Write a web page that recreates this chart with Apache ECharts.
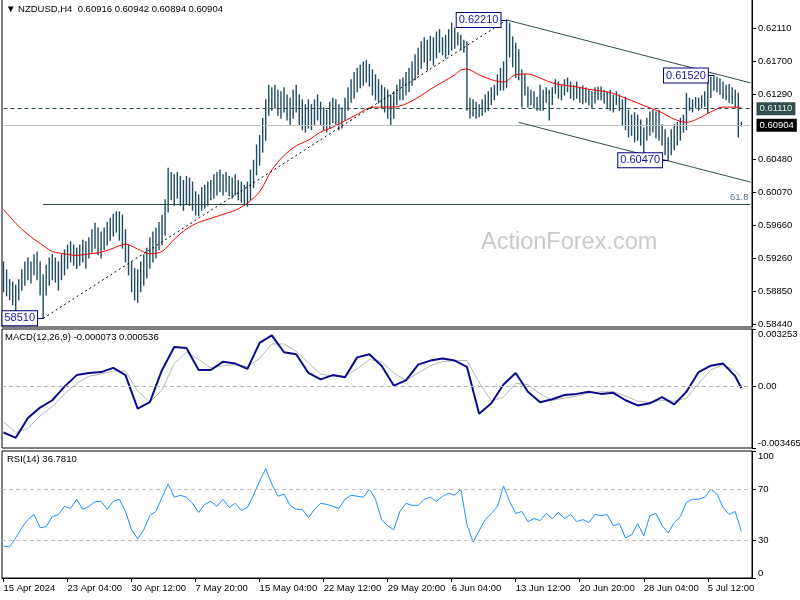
<!DOCTYPE html>
<html><head><meta charset="utf-8">
<script src="https://cdn.jsdelivr.net/npm/echarts@6/dist/echarts.min.js"></script>
<style>html,body{margin:0;padding:0;background:#fff}#c{width:800px;height:600px}</style>
</head><body><div id="c"></div>
<script>
// ---------- DATA ----------
const symbolName = 'NZDUSD,H4';
const lastBar = [0.60916, 0.60942, 0.60894, 0.60904]; // open high low close
const tickLabels = ['15 Apr 2024','23 Apr 04:00','30 Apr 12:00','7 May 20:00','15 May 04:00','22 May 12:00','29 May 20:00','6 Jun 04:00','13 Jun 12:00','20 Jun 20:00','28 Jun 04:00','5 Jul 12:00'];
const priceTicks = [0.58440,0.58850,0.59260,0.59660,0.60070,0.60480,0.61290,0.61700,0.62110];
const macdTicks = [-0.003465, 0, 0.003253];
const rsiTicks = [0, 30, 70, 100];
const rsiLevels = [70, 30];
const dashedLevel = 0.61110;
const fibLevel = {from: 13, price: 0.59925, text: '61.8'};
const trendLines = [
  {from: [13, 0.5851], to: [165, 0.6221], kind: 'dot'},
  {from: [165, 0.6221], to: [245, 0.6143], kind: 'solid'},
  {from: [169, 0.6094], to: [245, 0.6020], kind: 'solid'}
];
const annotations = [
  {idx: 165, price: 0.62210, text: '0.62210'},
  {idx: 233, price: 0.61520, text: '0.61520'},
  {idx: 218, price: 0.60470, text: '0.60470'},
  {idx: 13,  price: 0.58510, text: '58510'}
];
const highs = [
.5921,.5911,.5899,.5896,.5892,.5899,.5911,.5921,.5926,.5921,
.5930,.5933,.5921,.5905,.5917,.5926,.5930,.5926,.5921,.5930,
.5936,.5942,.5946,.5942,.5938,.5942,.5948,.5946,.5951,.5961,
.5969,.5963,.5958,.5963,.5970,.5975,.5980,.5983,.5983,.5979,
.5961,.5942,.5921,.5913,.5911,.5921,.5930,.5938,.5951,.5958,
.5963,.5970,.5979,.5998,.6037,.6032,.6029,.6032,.6027,.6022,
.6027,.6025,.6020,.6008,.6004,.6013,.6016,.6020,.6022,.6029,
.6032,.6035,.6029,.6032,.6027,.6025,.6029,.6022,.6020,.6016,
.6020,.6035,.6047,.6066,.6078,.6099,.6122,.6140,.6137,.6140,
.6134,.6132,.6137,.6128,.6124,.6134,.6140,.6128,.6122,.6116,
.6122,.6116,.6122,.6128,.6119,.6112,.6109,.6119,.6124,.6122,
.6116,.6112,.6124,.6137,.6147,.6156,.6161,.6165,.6169,.6171,
.6166,.6159,.6153,.6147,.6140,.6137,.6134,.6128,.6132,.6140,
.6147,.6149,.6156,.6161,.6169,.6178,.6186,.6194,.6199,.6196,
.6201,.6199,.6206,.6209,.6199,.6202,.6209,.6217,.6211,.6205,
.6202,.6196,.6194,.6124,.6122,.6119,.6116,.6122,.6128,.6132,
.6137,.6140,.6153,.6161,.6169,.6221,.6217,.6200,.6192,.6184,
.6159,.6153,.6138,.6134,.6132,.6125,.6140,.6134,.6137,.6134,
.6137,.6147,.6144,.6140,.6147,.6149,.6144,.6140,.6144,.6137,
.6139,.6137,.6134,.6132,.6137,.6138,.6138,.6134,.6132,.6134,
.6128,.6132,.6128,.6122,.6125,.6109,.6103,.6106,.6103,.6097,
.6087,.6099,.6107,.6109,.6107,.6109,.6091,.6085,.6075,.6085,
.6091,.6094,.6099,.6103,.6130,.6124,.6122,.6125,.6124,.6127,
.6132,.6147,.6150,.6152,.6150,.6148,.6144,.6140,.6141,.6137,
.6134,.6130,.60942];
const lows = [
.5884,.5879,.5874,.5868,.5859,.5874,.5886,.5892,.5899,.5895,
.5905,.5899,.5880,.5851,.5880,.5892,.5899,.5896,.5886,.5899,
.5905,.5913,.5921,.5917,.5913,.5917,.5921,.5913,.5926,.5933,
.5938,.5930,.5926,.5936,.5942,.5948,.5953,.5958,.5948,.5938,
.5921,.5905,.5884,.5874,.5871,.5884,.5892,.5901,.5913,.5921,
.5926,.5936,.5942,.5954,.5983,.5998,.5991,.6000,.5991,.5985,
.5993,.5991,.5985,.5979,.5978,.5985,.5988,.5991,.5998,.6000,
.6004,.6008,.6004,.6008,.6003,.6000,.6004,.5998,.5995,.5991,
.5990,.5998,.6013,.6029,.6041,.6057,.6072,.6103,.6109,.6112,
.6103,.6099,.6107,.6097,.6091,.6099,.6107,.6091,.6085,.6082,
.6087,.6085,.6091,.6097,.6091,.6085,.6082,.6087,.6094,.6091,
.6085,.6087,.6097,.6109,.6119,.6124,.6132,.6137,.6140,.6144,
.6139,.6128,.6122,.6118,.6112,.6107,.6099,.6091,.6099,.6116,
.6122,.6122,.6128,.6132,.6140,.6147,.6153,.6161,.6169,.6159,
.6171,.6165,.6174,.6181,.6178,.6174,.6178,.6184,.6186,.6190,
.6184,.6181,.6109,.6099,.6102,.6099,.6101,.6103,.6107,.6109,
.6116,.6122,.6128,.6134,.6134,.6137,.6175,.6163,.6150,.6147,
.6113,.6128,.6113,.6116,.6112,.6109,.6109,.6109,.6119,.6097,
.6116,.6130,.6124,.6122,.6128,.6132,.6124,.6122,.6124,.6119,
.6117,.6119,.6116,.6112,.6118,.6122,.6122,.6118,.6112,.6109,
.6107,.6116,.6109,.6091,.6085,.6076,.6078,.6070,.6072,.6066,
.6056,.6072,.6078,.6082,.6075,.6072,.6066,.6054,.6047,.6054,
.6060,.6066,.6072,.6082,.6085,.6109,.6107,.6112,.6109,.6112,
.6114,.6106,.6125,.6134,.6132,.6129,.6124,.6122,.6119,.6117,
.6113,.6076,.60894];
const maLine = [[0,.5986],[4,.5969],[8,.5955],[12,.5944],[16,.5934],[20,.5931],[24,.5929],[28,.5931],[32,.5933],[36,.5938],[40,.5943],[44,.5937],[48,.5931],[52,.5934],[56,.5949],[60,.5962],[64,.5970],[68,.5975],[72,.5980],[76,.5985],[80,.5994],[84,.6008],[88,.6035],[92,.6053],[96,.6065],[100,.6072],[104,.6082],[108,.6088],[112,.6096],[116,.6104],[120,.6112],[124,.6113],[128,.6113],[132,.6117],[136,.6125],[140,.6135],[144,.6144],[148,.6153],[150,.6159],[152,.6160],[156,.6153],[160,.6147],[164,.6144],[168,.6153],[172,.6154],[176,.6149],[180,.6143],[184,.6140],[188,.6138],[192,.6135],[196,.6133],[200,.6130],[204,.6124],[208,.6118],[212,.6112],[216,.6106],[220,.6098],[224,.6094],[228,.6099],[232,.6107],[236,.6113],[240,.6113],[242,.6112]];
const macdMain = [[0,-0.00259],[4,-0.00289],[8,-0.00177],[12,-0.00118],[16,-0.00077],[20,0.0],[24,0.00065],[28,0.00077],[32,0.00082],[36,0.00106],[40,0.00065],[44,-0.00124],[48,-0.00088],[52,0.00094],[56,0.00224],[60,0.00218],[64,0.00094],[68,0.00094],[72,0.00141],[76,0.00130],[80,0.00100],[84,0.00247],[88,0.00289],[92,0.00194],[96,0.00183],[100,0.00077],[104,0.00041],[108,0.00065],[112,0.00053],[116,0.00165],[120,0.00183],[124,0.00118],[128,0.00006],[132,0.00035],[136,0.00124],[140,0.00147],[144,0.00159],[148,0.00147],[152,0.00112],[156,-0.00153],[160,-0.00094],[164,0.00012],[168,0.00077],[172,-0.00029],[176,-0.00088],[180,-0.00071],[184,-0.00047],[188,-0.00041],[192,-0.00029],[196,-0.00041],[200,-0.00035],[204,-0.00077],[208,-0.00106],[212,-0.00094],[216,-0.00059],[220,-0.00100],[224,-0.00029],[228,0.00082],[232,0.00118],[236,0.00130],[240,0.00059],[242,-0.000073]];
const macdSignal = [[0,-0.00200],[4,-0.00259],[8,-0.00236],[12,-0.00165],[16,-0.00112],[20,-0.00041],[24,0.00018],[28,0.00059],[32,0.00071],[36,0.00088],[40,0.00088],[44,-0.00024],[48,-0.00088],[52,-0.00018],[56,0.00130],[60,0.00194],[64,0.00153],[68,0.00106],[72,0.00118],[76,0.00124],[80,0.00112],[84,0.00159],[88,0.00241],[92,0.00241],[96,0.00200],[100,0.00135],[104,0.00071],[108,0.00059],[112,0.00059],[116,0.00100],[120,0.00153],[124,0.00141],[128,0.00077],[132,0.00035],[136,0.00077],[140,0.00118],[144,0.00141],[148,0.00147],[152,0.00147],[156,0.00024],[160,-0.00082],[164,-0.00059],[168,0.00018],[172,0.00012],[176,-0.00041],[180,-0.00077],[184,-0.00065],[188,-0.00053],[192,-0.00035],[196,-0.00029],[200,-0.00029],[204,-0.00053],[208,-0.00082],[212,-0.00088],[216,-0.00077],[220,-0.00082],[224,-0.00065],[228,0.00018],[232,0.00094],[236,0.00124],[240,0.00088],[242,0.000536]];
const rsiLine = [[0,25.2],[2,24.4],[4,31.6],[6,39.6],[8,46.0],[10,50.0],[12,39.6],[14,40.4],[16,48.4],[18,50.0],[20,56.4],[22,54.8],[24,62.0],[26,54.0],[28,56.4],[30,60.0],[32,60.4],[34,54.0],[36,60.4],[38,62.0],[40,52.4],[42,38.0],[44,30.8],[46,38.0],[48,49.2],[50,52.4],[52,63.6],[54,74.0],[56,63.6],[58,65.2],[60,63.6],[62,58.8],[64,51.6],[66,58.0],[68,60.4],[70,56.4],[72,62.0],[74,55.6],[76,58.8],[78,53.2],[80,55.6],[82,65.2],[84,76.4],[86,86.0],[88,74.0],[90,64.4],[92,66.0],[94,57.2],[96,54.0],[98,54.0],[100,47.6],[102,54.0],[104,58.8],[106,58.0],[108,56.4],[110,54.8],[112,62.0],[114,65.2],[116,64.4],[118,63.6],[120,70.0],[122,62.0],[124,46.0],[126,41.2],[128,38.0],[130,52.4],[132,58.8],[134,57.2],[136,57.2],[138,62.0],[140,63.6],[142,60.4],[144,64.4],[146,66.8],[148,65.2],[150,70.0],[152,42.0],[154,28.4],[156,37.2],[158,46.0],[160,50.8],[162,56.4],[164,72.4],[166,60.4],[168,50.8],[170,52.4],[172,44.4],[174,46.8],[176,45.2],[178,50.8],[180,46.8],[182,51.6],[184,46.8],[186,50.0],[188,44.4],[190,46.0],[192,43.6],[194,50.0],[196,49.2],[198,50.0],[200,41.2],[202,42.8],[204,31.6],[206,34.0],[208,42.8],[210,33.2],[212,49.2],[214,50.8],[216,41.2],[218,35.6],[220,43.6],[222,48.4],[224,59.6],[226,62.0],[228,62.0],[230,63.6],[232,70.0],[234,66.0],[236,55.6],[238,50.0],[240,52.4],[242,36.781]];

// ---------- CHART ----------
const FONT = '"Liberation Sans", Arial, sans-serif';
const BAR_COLOR = '#1d4b5f';
const SLOTS = 246;
const cats = Array.from({length: SLOTS}, (_, i) => 'b' + i);
const barData = highs.map((h, i) => [i, lows[i], h]);
const grids = [
  {left: 2, right: 48, top: -1, height: 328},
  {left: 2, right: 48, top: 329, height: 119},
  {left: 2, right: 48, top: 451, height: 127}
].map(g => Object.assign({show: true, borderColor: '#000', borderWidth: 1, backgroundColor: '#fff', containLabel: false, outerBoundsMode: 'none'}, g));

function xAx(gi, showLabels) {
  return {
    type: 'category', gridIndex: gi, data: cats, boundaryGap: true,
    axisLine: {show: showLabels, lineStyle: {color: '#000'}},
    axisTick: {show: showLabels, interval: 20, alignWithLabel: true, length: 4, lineStyle: {color: '#000'}},
    axisLabel: {show: showLabels, interval: 20, align: 'left', color: '#000', fontFamily: FONT, fontSize: 9.5, margin: 5,
      formatter: v => { const i = parseInt(v.slice(1)); return i % 21 === 0 && tickLabels[i / 21] ? tickLabels[i / 21] : ''; }},
    splitLine: {show: false}
  };
}
function yAx(gi, min, max, ticks, fmt, edgeAlign) {
  const lab = {customValues: ticks, formatter: fmt, color: '#000', fontFamily: FONT, fontSize: 9.5, margin: 6};
  if (edgeAlign) { lab.verticalAlignMinLabel = 'bottom'; lab.verticalAlignMaxLabel = 'top'; }
  return {
    type: 'value', gridIndex: gi, position: 'right', min, max, scale: true,
    axisLine: {show: true, lineStyle: {color: '#000'}},
    axisTick: {show: true, customValues: ticks, length: 4, lineStyle: {color: '#000'}},
    axisLabel: lab,
    splitLine: {show: false}
  };
}
// horizontal level drawn across the whole main panel, from first to last slot
function levelLine(value, lineStyle, label) {
  return [{coord: [0, value], lineStyle, label}, {coord: [SLOTS - 1, value]}];
}

const annoLabel = {
  show: true, position: 'left', distance: 0, color: '#1515a5', fontFamily: FONT, fontSize: 11,
  backgroundColor: '#fff', borderColor: '#000080', borderWidth: 1, padding: [2, 2, 1, 2]
};
const priceBox = (bg, fg) => ({show: true, position: 'end', distance: 6, color: fg, backgroundColor: bg, padding: [2, 3, 1, 3], fontFamily: FONT, fontSize: 9.5});

const option = {
  animation: false,
  backgroundColor: '#fff',
  grid: grids,
  xAxis: [xAx(0, false), xAx(1, false), xAx(2, true)],
  yAxis: [
    yAx(0, 0.58403, 0.62470, priceTicks, v => v.toFixed(5), false),
    yAx(1, -0.003465, 0.003253, macdTicks, v => v === 0 ? '0.00' : v.toFixed(6), true),
    yAx(2, 0, 100, rsiTicks, v => String(v), true)
  ],
  graphic: [
    {type: 'text', left: 6, top: 4, z: 100, style: {text: '▼ ' + symbolName + '  ' + lastBar.map(v => v.toFixed(5)).join(' '), fill: '#000', font: '9.5px ' + FONT}},
    {type: 'text', left: 5, top: 332, z: 100, style: {text: 'MACD(12,26,9) ' + macdMain[macdMain.length - 1][1].toFixed(6) + ' ' + macdSignal[macdSignal.length - 1][1].toFixed(6), fill: '#000', font: '9.5px ' + FONT}},
    {type: 'text', left: 7, top: 454, z: 100, style: {text: 'RSI(14) ' + rsiLine[rsiLine.length - 1][1].toFixed(4), fill: '#000', font: '9.5px ' + FONT}},
    {type: 'text', left: 481, top: 231, z: 0, style: {text: 'ActionForex.com', fill: '#cacaca', font: '23.5px ' + FONT}}
  ],
  series: [
    { // levels, fib level, trend lines, annotation leaders
      type: 'line', xAxisIndex: 0, yAxisIndex: 0, data: [], z: 1, silent: true,
      markLine: {
        symbol: 'none', silent: true, animation: false,
        data: [
          levelLine(lastBar[3], {color: '#c0c0c0', type: 'solid', width: 1}, Object.assign(priceBox('#000', '#fff'), {formatter: lastBar[3].toFixed(5)})),
          levelLine(dashedLevel, {color: '#2f4f4f', type: [4, 3], width: 1}, Object.assign(priceBox('#2f4f4f', '#e8e8e8'), {formatter: dashedLevel.toFixed(5)})),
          [{coord: [fibLevel.from, fibLevel.price], lineStyle: {color: '#2f4f4f', type: 'solid', width: 1},
             label: {show: true, position: 'insideEndTop', formatter: fibLevel.text, color: '#60758a', fontFamily: FONT, fontSize: 9.5, distance: 2}},
           {coord: [SLOTS - 1, fibLevel.price]}]
        ].concat(trendLines.map(t => [
          {coord: t.from, lineStyle: {color: t.kind === 'dot' ? '#000' : '#2f4f4f', type: t.kind === 'dot' ? [2, 3] : 'solid', width: 1}, label: {show: false}},
          {coord: t.to}
        ])).concat(annotations.map(a => [
          {coord: [a.idx - 2, a.price], lineStyle: {color: '#000080', type: 'solid', width: 1}, label: {show: false}},
          {coord: [a.idx, a.price]}
        ]))
      }
    },
    {
      type: 'custom', xAxisIndex: 0, yAxisIndex: 0, data: barData, z: 2, silent: true,
      encode: {x: 0, y: [1, 2]},
      renderItem: (params, api) => {
        const i = api.value(0);
        const lo = api.coord([i, api.value(1)]);
        const hi = api.coord([i, api.value(2)]);
        return {type: 'line', shape: {x1: lo[0], y1: lo[1] + 0.5, x2: hi[0], y2: hi[1] - 0.5}, style: {stroke: BAR_COLOR, lineWidth: 1.4}};
      }
    },
    {
      type: 'line', xAxisIndex: 0, yAxisIndex: 0, data: maLine, z: 3, showSymbol: false, smooth: 0.3, silent: true,
      lineStyle: {color: '#ff0000', width: 1},
      markPoint: {
        symbol: 'circle', symbolSize: 0, silent: true, animation: false,
        data: annotations.map(a => ({coord: [a.idx - 2, a.price], value: a.text, label: Object.assign({}, annoLabel, {formatter: a.text})}))
      }
    },
    {
      type: 'line', xAxisIndex: 1, yAxisIndex: 1, data: macdSignal, z: 2, showSymbol: false, silent: true,
      lineStyle: {color: '#b8b8b8', width: 1},
      markLine: {symbol: 'none', silent: true, label: {show: false},
        data: [{yAxis: 0, lineStyle: {color: '#b4b4b4', type: [4, 3], width: 1}}]}
    },
    {
      type: 'line', xAxisIndex: 1, yAxisIndex: 1, data: macdMain, z: 3, showSymbol: false, silent: true,
      lineStyle: {color: '#0a0a8c', width: 2}
    },
    {
      type: 'line', xAxisIndex: 2, yAxisIndex: 2, data: rsiLine, z: 3, showSymbol: false, silent: true,
      lineStyle: {color: '#1e90ff', width: 1},
      markLine: {symbol: 'none', silent: true, label: {show: false},
        data: rsiLevels.map(l => ({yAxis: l, lineStyle: {color: '#c0c0c0', type: [4, 3], width: 1}}))}
    }
  ]
};
const chart = echarts.init(document.getElementById('c'), null, {renderer: 'canvas'});
chart.setOption(option);
</script></body></html>
